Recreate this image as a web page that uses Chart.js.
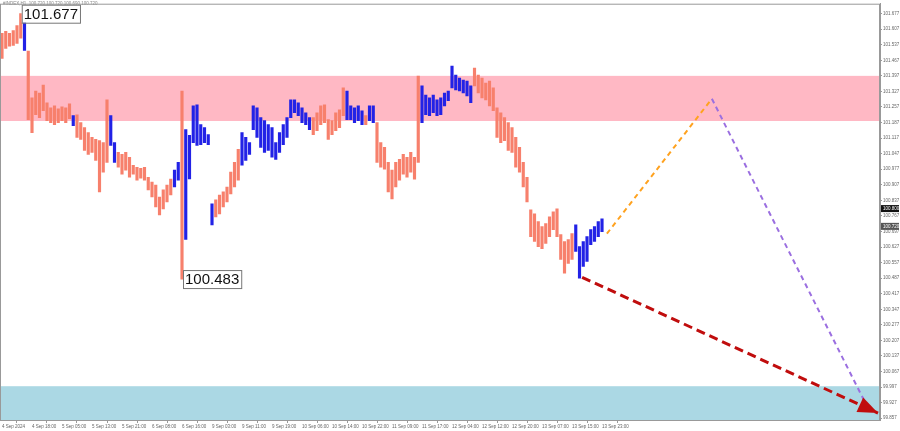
<!DOCTYPE html>
<html>
<head>
<meta charset="utf-8">
<title>#INDEX H1</title>
<script src="https://cdn.jsdelivr.net/npm/chart.js@4.4.1/dist/chart.umd.min.js"></script>
<style>
  html, body { margin: 0; padding: 0; background: #fff; }
  #wrap { position: relative; width: 900px; height: 431px; }
</style>
</head>
<body>
<div id="wrap"><canvas id="chart" width="900" height="431"></canvas></div>
<script>
// H1 bars, index 0 = 4 Sep 2024
const barHigh = [
  101.588, 101.597, 101.588, 101.601, 101.623, 101.677, 101.668, 101.508, 101.298, 101.329,
  101.320, 101.356, 101.276, 101.253, 101.262, 101.249, 101.258, 101.253, 101.271, 101.218,
  101.222, 101.187, 101.164, 101.142, 101.120, 101.111, 101.106, 101.097, 101.289, 101.218,
  101.097, 101.053, 101.044, 101.053, 101.031, 100.995, 100.986, 100.981, 100.986, 100.941,
  100.919, 100.906, 100.852, 100.884, 100.906, 100.933, 100.973, 101.008, 101.329, 101.155,
  101.129, 101.262, 101.267, 101.178, 101.164, 101.133, 100.821, 100.839, 100.861, 100.875,
  100.897, 100.964, 101.008, 101.066, 101.142, 101.120, 101.097, 101.262, 101.253, 101.209,
  101.196, 101.178, 101.164, 101.097, 101.142, 101.178, 101.209, 101.289, 101.289, 101.276,
  101.253, 101.231, 101.209, 101.209, 101.231, 101.262, 101.267, 101.200, 101.196, 101.231,
  101.244, 101.343, 101.329, 101.262, 101.253, 101.262, 101.240, 101.218, 101.262, 101.262,
  101.187, 101.097, 101.075, 101.008, 100.973, 101.008, 101.021, 101.044, 101.031, 101.053,
  101.031, 101.396, 101.352, 101.311, 101.298, 101.311, 101.289, 101.298, 101.320, 101.329,
  101.441, 101.401, 101.387, 101.378, 101.374, 101.352, 101.432, 101.401, 101.387, 101.365,
  101.374, 101.343, 101.253, 101.231, 101.209, 101.187, 101.164, 101.120, 101.075, 101.008,
  100.941, 100.794, 100.776, 100.741, 100.719, 100.732, 100.763, 100.785, 100.799, 100.683,
  100.652, 100.661, 100.687, 100.727, 100.629, 100.652, 100.674, 100.705, 100.719, 100.741,
  100.754
];
const barLow = [
  101.476, 101.521, 101.530, 101.534, 101.543, 101.566, 101.512, 101.200, 101.142, 101.222,
  101.209, 101.240, 101.196, 101.187, 101.178, 101.187, 101.196, 101.187, 101.205, 101.173,
  101.120, 101.111, 101.062, 101.044, 101.053, 101.017, 100.875, 100.964, 101.008, 101.084,
  101.008, 100.986, 100.955, 100.973, 100.941, 100.955, 100.928, 100.937, 100.928, 100.884,
  100.852, 100.808, 100.772, 100.799, 100.830, 100.861, 100.897, 100.928, 100.483, 100.661,
  100.933, 101.097, 101.084, 101.088, 101.097, 101.088, 100.727, 100.763, 100.776, 100.808,
  100.830, 100.866, 100.897, 100.928, 100.995, 101.017, 101.044, 101.155, 101.120, 101.075,
  101.053, 101.062, 101.031, 101.021, 101.053, 101.088, 101.120, 101.209, 101.231, 101.218,
  101.187, 101.178, 101.155, 101.133, 101.151, 101.178, 101.187, 101.111, 101.133, 101.151,
  101.164, 101.218, 101.200, 101.200, 101.187, 101.196, 101.178, 101.178, 101.196, 101.187,
  101.008, 100.986, 100.977, 100.875, 100.843, 100.897, 100.928, 100.955, 100.941, 100.964,
  100.932, 101.008, 101.187, 101.222, 101.218, 101.231, 101.218, 101.222, 101.262, 101.285,
  101.343, 101.334, 101.329, 101.320, 101.307, 101.276, 101.352, 101.320, 101.298, 101.289,
  101.262, 101.240, 101.120, 101.097, 101.106, 101.062, 101.053, 100.986, 100.964, 100.897,
  100.830, 100.674, 100.652, 100.629, 100.620, 100.643, 100.674, 100.705, 100.674, 100.571,
  100.509, 100.553, 100.571, 100.607, 100.487, 100.540, 100.562, 100.638, 100.652, 100.674,
  100.696
];
// wave direction runs: [number of bars, 'down' | 'up']
const waveRuns = [
  [6, 'down'], [1, 'up'], [12, 'down'], [1, 'up'], [9, 'down'], [2, 'up'], [15, 'down'],
  [2, 'up'], [1, 'down'], [8, 'up'], [7, 'down'], [19, 'up'], [9, 'down'], [5, 'up'],
  [1, 'down'], [2, 'up'], [12, 'down'], [14, 'up'], [27, 'down'], [8, 'up']
];

// time labels, one every 8 bars
const timeLabels = [
  '4 Sep 2024', '4 Sep 18:00', '5 Sep 05:00', '5 Sep 13:00', '5 Sep 21:00', '6 Sep 08:00',
  '6 Sep 16:00', '9 Sep 03:00', '9 Sep 11:00', '9 Sep 19:00', '10 Sep 06:00', '10 Sep 14:00',
  '10 Sep 22:00', '11 Sep 09:00', '11 Sep 17:00', '12 Sep 04:00', '12 Sep 12:00',
  '12 Sep 20:00', '13 Sep 07:00', '13 Sep 15:00', '13 Sep 23:00'
];
const priceTicks = [
  101.677, 101.607, 101.537, 101.467, 101.397, 101.327, 101.257, 101.187, 101.117, 101.047,
  100.977, 100.907, 100.837, 100.767, 100.697, 100.627, 100.557, 100.487, 100.417, 100.347,
  100.277, 100.207, 100.137, 100.067, 99.997, 99.927, 99.857
];

// zones (price from / to)
const resistanceZone = [101.194, 101.397];
const supportZone = [99.80, 100.001];

// forecast paths (bar index / price)
const mainPathX = [161.3, 189.3, 230.9];
const mainPathY = [100.687, 101.294, 99.903];
const altPathX = [154.7, 233.6];
const altPathY = [100.491, 99.880];

// price markers on the right scale
const askPrice = 100.800;
const bidPrice = 100.720;
const headerText = '#INDEX,H1  100.720 100.720 100.690 100.720';

const SALMON = '#f7806c';
const BLUE = '#2222e6';
const SMALL_FONT = '"Liberation Sans", Arial, sans-serif';

const barColors = [];
waveRuns.forEach(([n, dir]) => {
  for (let k = 0; k < n; k++) barColors.push(dir === 'up' ? BLUE : SALMON);
});

const barData = barHigh.map((h, i) => ({ x: i, y: [barLow[i], h] }));

const zonesPlugin = {
  id: 'zones',
  beforeDatasetsDraw(chart) {
    const { ctx, chartArea: a, scales: { y } } = chart;
    ctx.save();
    ctx.fillStyle = '#ffb8c4';
    let t = y.getPixelForValue(resistanceZone[1]), b = y.getPixelForValue(resistanceZone[0]);
    ctx.fillRect(a.left, t, a.right - a.left, b - t);
    ctx.fillStyle = '#abd8e4';
    t = y.getPixelForValue(supportZone[1]);
    b = Math.min(a.bottom, y.getPixelForValue(supportZone[0]));
    ctx.fillRect(a.left, t, a.right - a.left, b - t);
    ctx.restore();
  },
  afterDatasetsDraw(chart) {
    const { ctx, chartArea: a, scales: { x, y } } = chart;
    ctx.save();
    // arrow head of the alternative path
    const x0 = x.getPixelForValue(altPathX[0]), y0 = y.getPixelForValue(altPathY[0]);
    const x1 = x.getPixelForValue(altPathX[1]), y1 = y.getPixelForValue(altPathY[1]);
    const ang = Math.atan2(y1 - y0, x1 - x0);
    ctx.fillStyle = '#c00d0d';
    ctx.beginPath();
    ctx.moveTo(x1, y1);
    ctx.lineTo(x1 - 20 * Math.cos(ang) + 8 * Math.sin(ang), y1 - 20 * Math.sin(ang) - 8 * Math.cos(ang));
    ctx.lineTo(x1 - 20 * Math.cos(ang) - 8 * Math.sin(ang), y1 - 20 * Math.sin(ang) + 8 * Math.cos(ang));
    ctx.closePath();
    ctx.fill();

    // extreme labels
    ctx.font = '15px "Liberation Sans", Arial, sans-serif';
    ctx.textBaseline = 'middle';
    const hiIdx = barHigh.indexOf(Math.max(...barHigh));
    const loIdx = barLow.indexOf(Math.min(...barLow));
    [[hiIdx, barHigh[hiIdx]], [loIdx, barLow[loIdx]]].forEach(([i, v]) => {
      const txt = v.toFixed(3);
      const px = x.getPixelForValue(i) + 1, py = y.getPixelForValue(v);
      const w = ctx.measureText(txt).width + 4;
      let top = Math.max(a.top + 1, py - 9);
      ctx.fillStyle = '#fff';
      ctx.fillRect(px, top, w, 18);
      ctx.strokeStyle = '#777';
      ctx.lineWidth = 1;
      ctx.strokeRect(px + 0.5, top + 0.5, w, 18);
      ctx.fillStyle = '#111';
      ctx.fillText(txt, px + 2, top + 10);
    });

    // header
    ctx.font = '4.5px ' + SMALL_FONT;
    ctx.fillStyle = '#888';
    ctx.textBaseline = 'top';
    ctx.fillText(headerText, 3, 2);

    // frame
    ctx.strokeStyle = '#999';
    ctx.strokeRect(a.left + 0.5, a.top + 0.5, a.right - a.left - 1, a.bottom - a.top);

    // price markers
    [[askPrice, '#111'], [bidPrice, '#555']].forEach(([p, c]) => {
      const py = y.getPixelForValue(p);
      ctx.fillStyle = c;
      ctx.fillRect(a.right + 1, py - 3.5, 18, 7);
      ctx.fillStyle = '#fff';
      ctx.textBaseline = 'middle';
      ctx.fillText(p.toFixed(3), a.right + 3, py);
    });
    ctx.restore();
  }
};

const pathStyle = { type: 'line', pointRadius: 0, fill: false, tension: 0, order: 0 };

new Chart(document.getElementById('chart'), {
  type: 'bar',
  data: {
    datasets: [
      {
        type: 'bar',
        data: barData,
        backgroundColor: barColors,
        borderWidth: 0,
        barThickness: 2.5,
        grouped: false,
        order: 2
      },
      Object.assign({}, pathStyle, {
        data: mainPathX.slice(0, 2).map((v, i) => ({ x: v, y: mainPathY[i] })),
        borderColor: '#ffa21f', borderWidth: 2, borderDash: [5, 4]
      }),
      Object.assign({}, pathStyle, {
        data: mainPathX.slice(1).map((v, i) => ({ x: v, y: mainPathY[i + 1] })),
        borderColor: '#9b6fe0', borderWidth: 2, borderDash: [5, 4]
      }),
      Object.assign({}, pathStyle, {
        data: altPathX.map((v, i) => ({ x: v, y: altPathY[i] })),
        borderColor: '#c00d0d', borderWidth: 3, borderDash: [9, 5]
      })
    ]
  },
  options: {
    responsive: false,
    animation: false,
    events: [],
    layout: { padding: 0 },
    plugins: { legend: { display: false }, tooltip: { enabled: false } },
    scales: {
      x: {
        type: 'linear',
        offset: false,
        min: -0.533,
        max: 234.13,
        afterFit(s) { s.height = 11; },
        afterBuildTicks(s) { s.ticks = timeLabels.map((_, k) => ({ value: k * 8 })); },
        ticks: {
          autoSkip: false,
          maxRotation: 0,
          align: 'start',
          padding: 1,
          color: '#666',
          font: { size: 4.5, family: SMALL_FONT },
          callback: (v) => timeLabels[Math.round(v / 8)] || ''
        },
        grid: { drawOnChartArea: false, tickLength: 3, color: '#999' },
        border: { color: '#999' }
      },
      y: {
        position: 'right',
        min: 99.849,
        max: 101.7216,
        afterFit(s) { s.width = 20; },
        afterBuildTicks(s) { s.ticks = priceTicks.map(v => ({ value: v })); },
        ticks: {
          padding: 1,
          color: '#666',
          font: { size: 4.5, family: SMALL_FONT },
          callback: (v) => v.toFixed(3)
        },
        grid: { drawOnChartArea: false, tickLength: 2, color: '#999' },
        border: { color: '#999' }
      }
    }
  },
  plugins: [zonesPlugin]
});
</script>
</body>
</html>
